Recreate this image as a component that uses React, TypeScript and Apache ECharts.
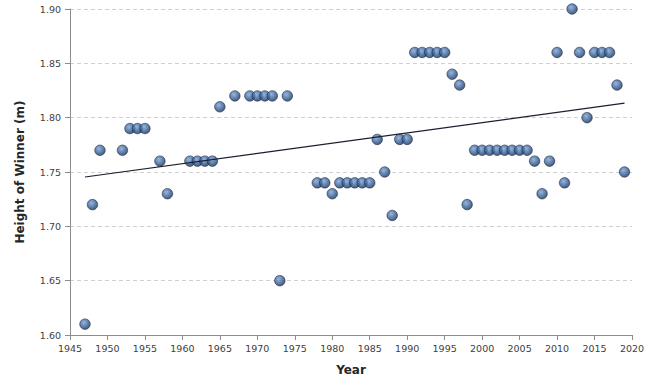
import React, { useEffect, useRef } from "react";
import * as echarts from "echarts";

const years: number[] = [
  1947, 1948, 1949, 1952, 1953, 1954, 1955, 1957, 1958, 1961, 1962, 1963, 1964,
  1965, 1967, 1969, 1970, 1971, 1972, 1973, 1974, 1978, 1979, 1980, 1981, 1982,
  1983, 1984, 1985, 1986, 1987, 1988, 1989, 1990, 1991, 1992, 1993, 1994, 1995,
  1996, 1997, 1998, 1999, 2000, 2001, 2002, 2003, 2004, 2005, 2006, 2007, 2008,
  2009, 2010, 2011, 2012, 2013, 2014, 2015, 2016, 2017, 2018, 2019,
];
const heights: number[] = [
  1.61, 1.72, 1.77, 1.77, 1.79, 1.79, 1.79, 1.76, 1.73, 1.76, 1.76, 1.76, 1.76,
  1.81, 1.82, 1.82, 1.82, 1.82, 1.82, 1.65, 1.82, 1.74, 1.74, 1.73, 1.74, 1.74,
  1.74, 1.74, 1.74, 1.78, 1.75, 1.71, 1.78, 1.78, 1.86, 1.86, 1.86, 1.86, 1.86,
  1.84, 1.83, 1.72, 1.77, 1.77, 1.77, 1.77, 1.77, 1.77, 1.77, 1.77, 1.76, 1.73,
  1.76, 1.86, 1.74, 1.90, 1.86, 1.80, 1.86, 1.86, 1.86, 1.83, 1.75,
];

const xName = "Year";
const yName = "Height of Winner (m)";

function regression(xs: number[], ys: number[]) {
  const n = xs.length;
  const mx = xs.reduce((a, b) => a + b, 0) / n;
  const my = ys.reduce((a, b) => a + b, 0) / n;
  let sxy = 0;
  let sxx = 0;
  for (let i = 0; i < n; i++) {
    sxy += (xs[i] - mx) * (ys[i] - my);
    sxx += (xs[i] - mx) * (xs[i] - mx);
  }
  const b = sxy / sxx;
  const a = my - b * mx;
  return (x: number) => a + b * x;
}

export default function App() {
  const ref = useRef<HTMLDivElement>(null);
  useEffect(() => {
    if (!ref.current) return;
    const chart = echarts.init(ref.current, null, { renderer: "svg" });
    const f = regression(years, heights);
    const x0 = years[0];
    const x1 = years[years.length - 1];
    const labelStyle = {
      fontFamily: "DejaVu Sans",
      fontSize: 9.5,
      color: "#404040",
    };
    chart.setOption({
      animation: false,
      backgroundColor: "#ffffff",
      grid: { left: 70, right: 18, top: 9, bottom: 53 },
      xAxis: {
        type: "value",
        min: 1945,
        max: 2020,
        interval: 5,
        name: xName,
        nameLocation: "middle",
        nameGap: 29,
        nameTextStyle: {
          fontFamily: "DejaVu Sans",
          fontWeight: "bold",
          fontSize: 12,
          color: "#262626",
        },
        axisLine: { show: true, lineStyle: { color: "#8c8c8c", width: 1 } },
        axisTick: { show: true, length: 5, lineStyle: { color: "#8c8c8c" } },
        axisLabel: { ...labelStyle, margin: 8, formatter: (v: number) => String(v) },
        splitLine: { show: false },
      },
      yAxis: {
        type: "value",
        min: 1.6,
        max: 1.9,
        interval: 0.05,
        name: yName,
        nameLocation: "middle",
        nameGap: 44,
        nameTextStyle: {
          fontFamily: "DejaVu Sans",
          fontWeight: "bold",
          fontSize: 12,
          color: "#262626",
        },
        axisLine: { show: true, lineStyle: { color: "#8c8c8c", width: 1 } },
        axisTick: { show: true, length: 5, lineStyle: { color: "#8c8c8c" } },
        axisLabel: {
          ...labelStyle,
          margin: 9,
          formatter: (v: number) => v.toFixed(2),
        },
        splitLine: {
          show: true,
          lineStyle: { color: "#d0d0d0", type: [4, 3], width: 1 },
        },
      },
      series: [
        {
          type: "scatter",
          data: years.map((y, i) => [y, heights[i]]),
          symbol: "circle",
          symbolSize: 10.5,
          z: 2,
          itemStyle: {
            color: {
              type: "radial",
              x: 0.4,
              y: 0.35,
              r: 0.7,
              colorStops: [
                { offset: 0, color: "#7fa3d3" },
                { offset: 0.5, color: "#3e68a0" },
                { offset: 1, color: "#142a48" },
              ],
            },
            borderColor: "#15263d",
            borderWidth: 0.7,
          },
        },
        {
          type: "line",
          data: [
            [x0, f(x0)],
            [x1, f(x1)],
          ],
          symbol: "none",
          z: 3,
          lineStyle: { color: "#1a1f2e", width: 1.2 },
        },
      ],
    });
    return () => chart.dispose();
  }, []);
  return (
    <div
      ref={ref}
      style={{ position: "absolute", left: 0, top: 0, width: 650, height: 388 }}
    />
  );
}
